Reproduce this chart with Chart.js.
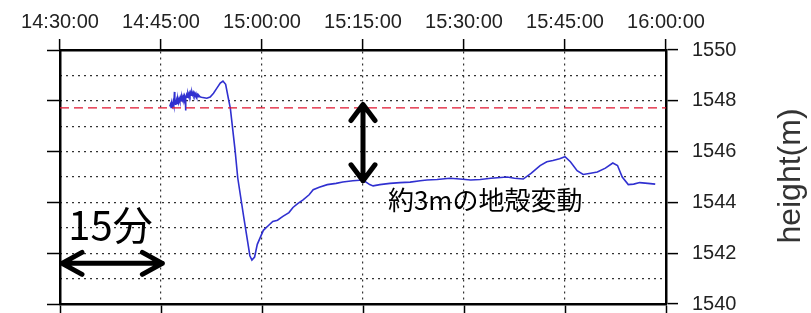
<!DOCTYPE html>
<html>
<head>
<meta charset="utf-8">
<script src="https://cdn.jsdelivr.net/npm/chart.js@4/dist/chart.umd.min.js"></script>
<style>
  html, body { margin: 0; padding: 0; background: #fff; }
  #wrap { width: 811px; height: 313px; }
</style>
</head>
<body>
<div id="wrap"><canvas id="chart" width="811" height="313"></canvas></div>
<script>
// minutes after 14:30:00
const timeLabels = ["14:30:00", "14:45:00", "15:00:00", "15:15:00", "15:30:00", "15:45:00", "16:00:00"];

const times = [
  16.3, 16.4, 16.5, 16.6, 16.7, 16.8, 16.9, 17.0, 17.05, 17.1, 17.2, 17.3, 17.4, 17.5, 17.6, 17.7,
  17.8, 17.9, 18.0, 18.1, 18.2, 18.3, 18.4, 18.5, 18.6, 18.65, 18.7, 18.8, 18.9, 19.0, 19.1, 19.2,
  19.3, 19.4, 19.5, 19.6, 19.7, 19.8, 19.9, 20.0, 20.1, 20.2, 20.3, 20.4, 20.5, 20.6, 20.8,
  21.0, 21.4, 21.8, 22.3, 22.8, 23.3, 23.8, 24.2, 24.6, 25.0, 25.3,
  26.0, 26.4, 27.3, 28.2, 28.5, 28.9, 29.3, 30.2, 31.0, 31.6, 32.3, 33.1, 34.0, 34.6, 35.3, 36.1,
  37.0, 37.6, 38.5, 39.7, 41.0, 42.0, 43.5, 45.0, 46.0, 46.5, 47.5, 49.0, 50.5, 52.0, 53.5, 54.5,
  56.0, 57.9, 59.4, 61.0, 62.4, 64.0, 66.4, 67.5, 68.8, 70.0, 71.3, 72.3, 73.2, 74.2, 75.0, 75.8,
  76.8, 77.7, 78.8, 79.8, 81.0, 82.1, 82.8, 83.5, 84.4, 85.2, 86.1, 87.3, 88.4
];
const heights = [
  1547.78, 1547.86, 1547.74, 1547.90, 1547.80, 1547.95, 1547.82, 1548.35, 1547.85, 1547.98, 1547.84, 1548.02, 1547.90, 1548.06, 1547.93, 1548.08,
  1547.98, 1548.12, 1548.00, 1548.15, 1548.04, 1548.18, 1548.08, 1548.20, 1548.10, 1547.62, 1548.12, 1548.24, 1548.14, 1548.28, 1548.18, 1548.30,
  1548.20, 1548.32, 1548.22, 1548.34, 1548.24, 1548.32, 1548.22, 1548.30, 1548.20, 1548.28, 1548.18, 1548.24, 1548.16, 1548.22, 1548.16,
  1548.14, 1548.12, 1548.10, 1548.15, 1548.30, 1548.50, 1548.70, 1548.78, 1548.65, 1548.10, 1547.70,
  1546.06, 1544.96, 1543.40, 1541.90, 1541.73, 1541.85, 1542.35, 1542.90, 1543.10, 1543.25, 1543.30, 1543.45, 1543.60, 1543.80, 1543.95, 1544.10,
  1544.30, 1544.50, 1544.60, 1544.70, 1544.75, 1544.80, 1544.85, 1544.88, 1544.70, 1544.65, 1544.70, 1544.75, 1544.78, 1544.80, 1544.85, 1544.88,
  1544.90, 1544.95, 1544.92, 1544.88, 1544.90, 1544.95, 1545.00, 1544.95, 1544.92, 1545.15, 1545.45, 1545.60, 1545.65, 1545.72, 1545.80, 1545.60,
  1545.25, 1545.10, 1545.15, 1545.20, 1545.35, 1545.55, 1545.45, 1545.00, 1544.70, 1544.72, 1544.78, 1544.75, 1544.72
];

// pre-quake reference level
const baseTimes = [0, 90];
const baseHeights = [1547.72, 1547.72];

const labelFont = {family: "'Liberation Sans', Arial, sans-serif", size: 20};
const gridColor = (c) => (c.index === 0 || c.index === c.chart.scales[c.scale.id].ticks.length - 1) ? "rgba(0,0,0,0)" : "#333";
const noPad = (s) => { s.paddingTop = 0; s.paddingBottom = 0; s.paddingLeft = 0; s.paddingRight = 0; };

const annotations = {
  id: "annotations",
  afterDraw(chart) {
    const {ctx, scales: {x, y}} = chart;
    ctx.save();
    ctx.strokeStyle = "#000";
    ctx.fillStyle = "#000";
    ctx.lineWidth = 5;
    ctx.lineCap = "round";
    ctx.lineJoin = "round";

    // 15 minute arrow
    const ay = y.getPixelForValue(1541.6);
    const ax1 = x.getPixelForValue(0.3), ax2 = x.getPixelForValue(15.2);
    ctx.beginPath();
    ctx.moveTo(ax1, ay); ctx.lineTo(ax2, ay);
    ctx.moveTo(ax1 + 20, ay - 11); ctx.lineTo(ax1, ay); ctx.lineTo(ax1 + 20, ay + 11);
    ctx.moveTo(ax2 - 20, ay - 11); ctx.lineTo(ax2, ay); ctx.lineTo(ax2 - 20, ay + 11);
    ctx.stroke();

    // ~3 m offset arrow
    const vx = x.getPixelForValue(45);
    const vy1 = y.getPixelForValue(1547.85), vy2 = y.getPixelForValue(1544.85);
    ctx.beginPath();
    ctx.moveTo(vx, vy1); ctx.lineTo(vx, vy2);
    ctx.moveTo(vx - 12, vy1 + 16); ctx.lineTo(vx, vy1); ctx.lineTo(vx + 12, vy1 + 16);
    ctx.moveTo(vx - 12, vy2 - 16); ctx.lineTo(vx, vy2); ctx.lineTo(vx + 12, vy2 - 16);
    ctx.stroke();

    ctx.textBaseline = "middle";
    ctx.textAlign = "center";
    ctx.font = "40px 'Noto Sans CJK JP', sans-serif";
    ctx.fillText("15分", x.getPixelForValue(7.5), y.getPixelForValue(1543.1));

    ctx.textAlign = "left";
    ctx.font = "26px 'Noto Sans CJK JP', sans-serif";
    ctx.fillText("約3mの地殻変動", x.getPixelForValue(48.7), y.getPixelForValue(1544.1));

    // axis title, reads bottom to top
    ctx.translate(791, 176);
    ctx.rotate(-Math.PI / 2);
    ctx.textAlign = "center";
    ctx.fillStyle = "#333";
    ctx.font = "32px 'Liberation Sans', Arial, sans-serif";
    ctx.fillText("height(m)", 0, 0);
    ctx.restore();
  }
};

new Chart(document.getElementById("chart"), {
  type: "line",
  data: {
    datasets: [
      {
        data: baseTimes.map((t, i) => ({x: t, y: baseHeights[i]})),
        borderColor: "#e0152e",
        borderWidth: 1.4,
        borderDash: [9, 5],
        pointRadius: 0,
        xAxisID: "x",
        yAxisID: "y"
      },
      {
        data: times.map((t, i) => ({x: t, y: heights[i]})),
        borderColor: "#3030d0",
        borderWidth: 1.6,
        pointRadius: 0,
        tension: 0,
        xAxisID: "x",
        yAxisID: "y"
      }
    ]
  },
  options: {
    responsive: false,
    animation: false,
    events: [],
    layout: {padding: 0},
    plugins: {legend: {display: false}, title: {display: false}, tooltip: {enabled: false}},
    scales: {
      x: {
        type: "linear",
        position: "top",
        min: 0,
        max: 90,
        ticks: {
          stepSize: 15,
          autoSkip: false,
          maxRotation: 0,
          color: "#222",
          font: labelFont,
          padding: 5,
          callback: (v) => timeLabels[Math.round(v / 15)]
        },
        grid: {
          color: gridColor,
          lineWidth: 1.2,
          tickLength: 11,
          tickColor: "#000",
          tickWidth: 1.5,
          tickBorderDash: []
        },
        border: {display: true, color: "#000", width: 2.5, dash: [2, 4]},
        afterFit: (s) => { s.height = 50; noPad(s); }
      },
      x2: {
        type: "linear",
        position: "bottom",
        min: 0,
        max: 90,
        ticks: {stepSize: 15, display: false},
        grid: {drawOnChartArea: false, tickLength: 9, tickColor: "#000", tickWidth: 1.5},
        border: {display: true, color: "#000", width: 2.5},
        afterFit: (s) => { s.height = 9; noPad(s); }
      },
      y: {
        type: "linear",
        position: "right",
        min: 1540,
        max: 1550,
        ticks: {
          stepSize: 1,
          autoSkip: false,
          color: "#222",
          font: labelFont,
          padding: 14,
          callback: (v) => (v % 2 === 0 ? String(v) : "")
        },
        grid: {
          color: gridColor,
          lineWidth: 1.2,
          tickLength: 12,
          tickColor: (c) => (c.tick && c.tick.value % 2 === 0 ? "#000" : "rgba(0,0,0,0)"),
          tickWidth: 1.5,
          tickBorderDash: []
        },
        border: {display: true, color: "#000", width: 2.5, dash: [2, 4]},
        afterFit: (s) => { s.width = 145; noPad(s); }
      },
      y2: {
        type: "linear",
        position: "left",
        min: 1540,
        max: 1550,
        ticks: {stepSize: 2, display: false},
        grid: {drawOnChartArea: false, tickLength: 13, tickColor: "#000", tickWidth: 1.5},
        border: {display: true, color: "#000", width: 2.5},
        afterFit: (s) => { s.width = 60; noPad(s); }
      }
    }
  },
  plugins: [annotations]
});
</script>
</body>
</html>
